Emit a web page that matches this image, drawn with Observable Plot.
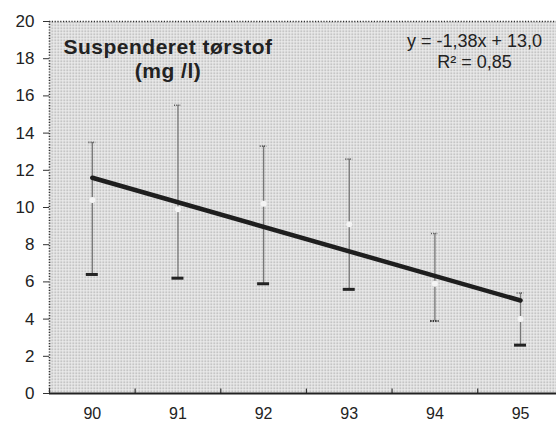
<!DOCTYPE html>
<html>
<head>
<meta charset="utf-8">
<script src="https://cdn.jsdelivr.net/npm/d3@7"></script>
<script src="https://cdn.jsdelivr.net/npm/@observablehq/plot@0.6"></script>
<style>
  html, body { margin: 0; padding: 0; background: #fff; }
  .wide text { letter-spacing: 0.5px; }
</style>
</head>
<body>
<div id="chart"></div>
<script>
const years = [90, 91, 92, 93, 94, 95];
const upper = [13.5, 15.5, 13.3, 12.6, 8.6, 5.4];
const mean  = [10.4, 9.9, 10.2, 9.1, 5.9, 4.0];
const lower = [6.4, 6.2, 5.9, 5.6, 3.9, 2.6];
const lowerCapSolid = [true, true, true, true, false, true];
const trendYears = [90, 95];
const trendValues = [11.6, 5.0];
const yTicks = [0, 2, 4, 6, 8, 10, 12, 14, 16, 18, 20];
const titleLines = ["Suspenderet tørstof", "(mg /l)"];
const equationLines = ["y = -1,38x + 13,0", "R² = 0,85"];

const xDomain = [89.5, 95.42];
const rows = years.map((x, i) => ({x, upper: upper[i], mean: mean[i], lower: lower[i], solid: lowerCapSolid[i]}));
const trend = trendYears.map((x, i) => ({x, y: trendValues[i]}));
const bounds = years.map(y => y - 0.5).concat([years[years.length - 1] + 0.5]);

const chart = Plot.plot({
  width: 556,
  height: 422,
  marginLeft: 49,
  marginRight: 0,
  marginTop: 21,
  marginBottom: 29,
  style: {fontFamily: "'Liberation Sans', Arial, sans-serif", fontSize: "16px", color: "#222", background: "#fff"},
  x: {domain: xDomain, label: null},
  y: {domain: [0, 20], label: null},
  marks: [
    Plot.frame({fill: "url(#halftone)", stroke: "none"}),
    Plot.ruleY([20], {stroke: "#333", strokeWidth: 1.6, strokeDasharray: "1.2,1.6"}),
    Plot.ruleX([xDomain[0]], {stroke: "#333", strokeWidth: 1.6, strokeDasharray: "1.2,1.6"}),
    Plot.axisY({ticks: yTicks, tickSize: 6, tickPadding: 9, fontSize: 17, stroke: "#333", label: null}),
    Plot.axisX({ticks: years, tickSize: 0, tickPadding: 14, fontSize: 16, tickFormat: d => String(d), label: null}),
    Plot.ruleX(bounds, {y1: 0, y2: 0.4, stroke: "#333", strokeWidth: 1.2, insetBottom: -3}),
    Plot.ruleX(rows, {x: "x", y1: "lower", y2: "upper", stroke: "#777", strokeWidth: 1.3}),
    Plot.ruleY(rows, {y: "upper", x1: d => d.x - 0.04, x2: d => d.x + 0.04, stroke: "#555", strokeWidth: 1.6, strokeDasharray: "1,1.2"}),
    Plot.dot(rows, {x: "x", y: "mean", r: 3, fill: "#f4f4f4", stroke: "none"}),
    Plot.ruleY(rows.filter(d => d.solid), {y: "lower", x1: d => d.x - 0.07, x2: d => d.x + 0.07, stroke: "#222", strokeWidth: 3}),
    Plot.ruleY(rows.filter(d => !d.solid), {y: "lower", x1: d => d.x - 0.05, x2: d => d.x + 0.05, stroke: "#333", strokeWidth: 2, strokeDasharray: "1.5,1"}),
    Plot.ruleY([0], {stroke: "#222", strokeWidth: 2}),
    Plot.line(trend, {x: "x", y: "y", stroke: "#1e1e1e", strokeWidth: 4.5}),
    Plot.text([titleLines.join("\n")], {frameAnchor: "top-left", dx: 118.5, dy: 15, textAnchor: "middle", lineAnchor: "top", fontSize: 21, fontWeight: "bold", lineHeight: 1.15, fill: "#222", className: "wide"}),
    Plot.text([equationLines.join("\n")], {frameAnchor: "top-right", dx: -82, dy: 10, textAnchor: "middle", lineAnchor: "top", fontSize: 18, lineHeight: 1.18, fill: "#222"})
  ]
});

// halftone pattern for the plot background
const ns = "http://www.w3.org/2000/svg";
const defs = document.createElementNS(ns, "defs");
const pat = document.createElementNS(ns, "pattern");
pat.setAttribute("id", "halftone");
pat.setAttribute("width", "3");
pat.setAttribute("height", "3");
pat.setAttribute("patternUnits", "userSpaceOnUse");
const bg = document.createElementNS(ns, "rect");
bg.setAttribute("width", "3"); bg.setAttribute("height", "3"); bg.setAttribute("fill", "#ededed");
const dot = document.createElementNS(ns, "rect");
dot.setAttribute("width", "1.5"); dot.setAttribute("height", "1.5"); dot.setAttribute("fill", "#a6a6a6");
pat.appendChild(bg); pat.appendChild(dot);
defs.appendChild(pat);
chart.insertBefore(defs, chart.firstChild);

document.getElementById("chart").appendChild(chart);
</script>
</body>
</html>
